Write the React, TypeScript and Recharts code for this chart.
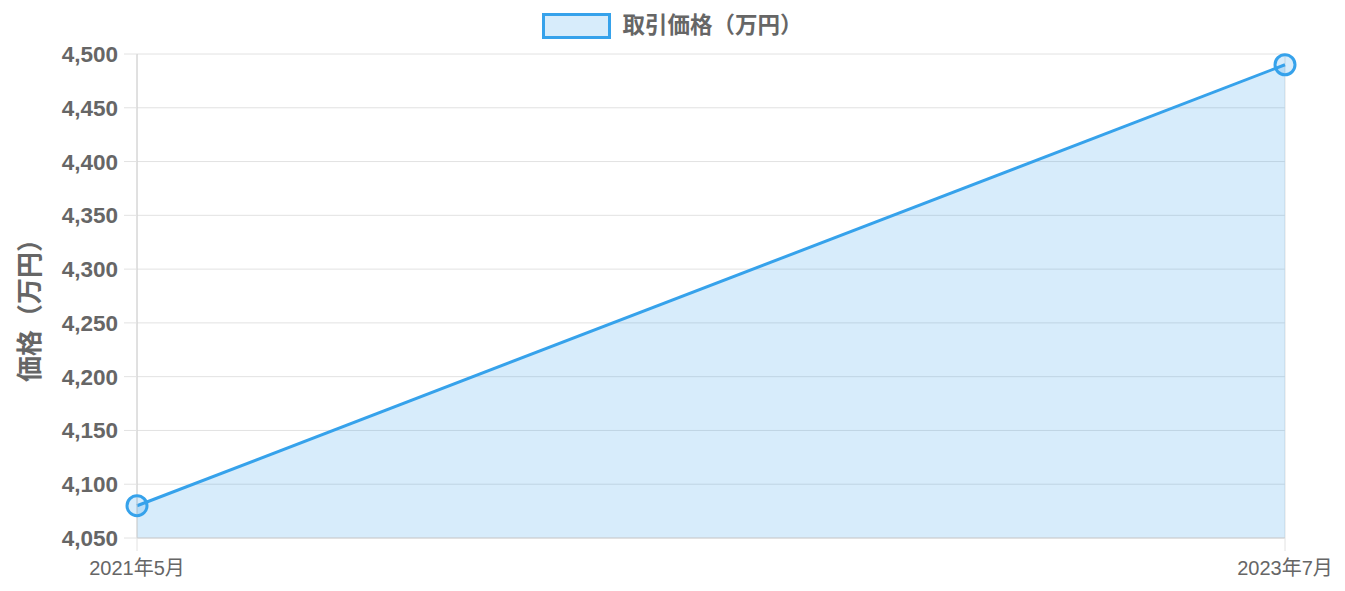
import React from 'react';
import { AreaChart, Area, XAxis, YAxis, CartesianGrid, Legend, Label } from 'recharts';

const categories: string[] = ['2021年5月', '2023年7月'];
const prices: number[] = [4080, 4490];
const yTicks: number[] = [4050, 4100, 4150, 4200, 4250, 4300, 4350, 4400, 4450, 4500];
const seriesName = '取引価格（万円）';
const yAxisTitle = '価格（万円）';

const data = categories.map((c, i) => ({ month: c, price: prices[i] }));

const FONT = "'Liberation Sans', Arial, 'Noto Sans CJK JP', sans-serif";
const LINE = '#36a2eb';
const FILL = 'rgba(54,162,235,0.2)';
const GRID = '#e2e2e2';
const AXIS = '#d0d0d0';
const TEXT = '#666666';

const LegendContent = () => (
  <div
    style={{
      height: 54,
      display: 'flex',
      justifyContent: 'center',
      alignItems: 'flex-start',
      paddingTop: 13,
      boxSizing: 'border-box',
      fontFamily: FONT,
    }}
  >
    <div
      style={{
        width: 63,
        height: 20,
        border: `3px solid ${LINE}`,
        background: FILL,
        marginRight: 11,
      }}
    />
    <span style={{ fontSize: 22.5, fontWeight: 'bold', color: TEXT, lineHeight: '26px' }}>{seriesName}</span>
  </div>
);

export default function App() {
  return (
    <div style={{ position: 'absolute', left: 0, top: 0, fontFamily: FONT }}>
      <AreaChart
        width={1345}
        height={591}
        data={data}
        margin={{ top: 0, right: 60, bottom: 0, left: 0 }}
        style={{ fontFamily: FONT }}
      >
        <Legend
          verticalAlign="top"
          align="center"
          content={<LegendContent />}
          wrapperStyle={{ left: 0, top: 0, width: 1345, height: 54 }}
        />
        <CartesianGrid stroke={GRID} strokeWidth={1} />
        <XAxis
          dataKey="month"
          height={53}
          tickSize={13}
          tickMargin={10}
          axisLine={{ stroke: AXIS }}
          tickLine={{ stroke: GRID }}
          tick={{ fontSize: 20, fill: TEXT }}
          interval={0}
        />
        <YAxis
          width={137}
          domain={[4050, 4500]}
          ticks={yTicks}
          tickSize={13}
          tickMargin={6}
          axisLine={{ stroke: AXIS }}
          tickLine={{ stroke: GRID }}
          tick={{ fontSize: 22.5, fontWeight: 'bold', fill: TEXT }}
          tickFormatter={(v: number) => v.toLocaleString('en-US')}
          interval={0}
        >
          <Label
            value={yAxisTitle}
            angle={-90}
            position="insideLeft"
            offset={30}
            dx={0}
            dy={8}
            textAnchor="middle"
            style={{ fontSize: 26, fontWeight: 'bold', fill: TEXT, textAnchor: 'middle' }}
          />
        </YAxis>
        <Area
          type="linear"
          dataKey="price"
          name={seriesName}
          stroke={LINE}
          strokeWidth={3}
          fill={LINE}
          fillOpacity={0.2}
          dot={{ r: 10, stroke: LINE, strokeWidth: 3, fill: FILL, fillOpacity: 1 }}
          activeDot={false}
          isAnimationActive={false}
        />
      </AreaChart>
    </div>
  );
}
